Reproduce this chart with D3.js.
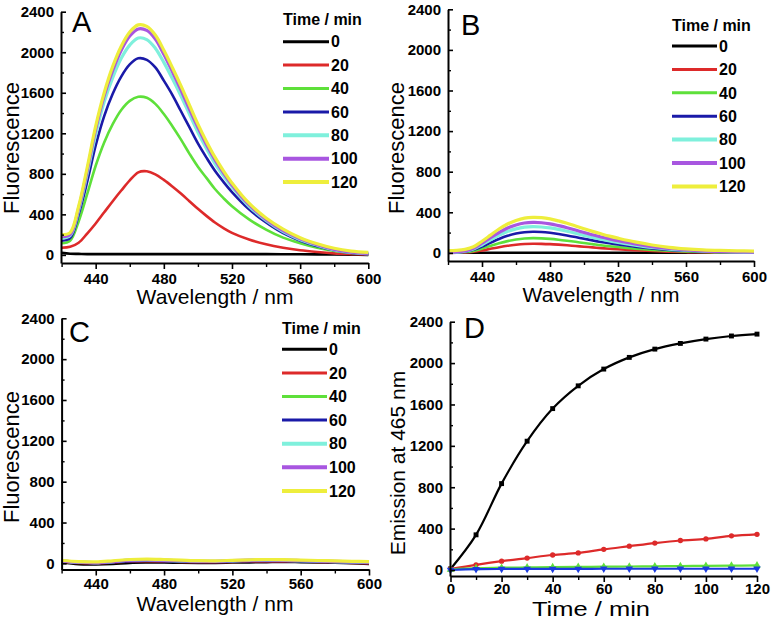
<!DOCTYPE html>
<html><head><meta charset="utf-8">
<script src="https://cdn.jsdelivr.net/npm/d3@7"></script>
<style>
html,body{margin:0;padding:0;background:#fff;}
svg{display:block;}
text{font-family:"Liberation Sans",Arial,sans-serif;}
</style></head>
<body>
<svg id="chart" width="773" height="620"></svg>
<script>
// ---------------- DATA ----------------
const timeLabels = ["0","20","40","60","80","100","120"];
const seriesColors = ["#000000","#dd2a2a","#5ee03a","#1a1aa8","#7ff0dc","#a856e0","#eeee3c"];
const wlAB = [420,425,430,435,440,445,450,455,460,465,470,475,480,485,490,495,500,505,510,515,520,530,540,550,560,570,580,590,600];
const wlC = [420,430,440,450,460,470,480,490,500,510,520,530,540,550,560,570,580,590,600];
const xTicksWl = [440,480,520,560,600];
const yTicks = [0,400,800,1200,1600,2000,2400];

// Panel A spectra
const A_t0   = [20,12,10,8,8,8,8,8,8,8,8,8,8,8,8,8,8,8,8,8,8,8,8,7,6,5,4,3,0];
const A_t20  = [70,80,120,210,310,420,530,635,735,815,825,795,740,675,605,530,455,385,320,265,218,152,104,70,45,28,15,8,3];
const A_t40  = [115,140,330,600,880,1110,1290,1430,1520,1560,1550,1490,1390,1270,1140,1000,870,760,650,560,480,350,250,170,115,70,38,18,8];
const A_t60  = [140,165,400,720,1080,1370,1590,1760,1880,1940,1925,1850,1720,1580,1420,1260,1100,960,830,720,620,450,320,215,140,85,45,20,8];
const A_t80  = [165,190,440,800,1190,1510,1750,1940,2070,2140,2125,2040,1900,1740,1570,1390,1210,1050,900,780,670,480,340,230,150,95,50,25,12];
const A_t100 = [180,200,460,830,1240,1570,1820,2020,2160,2230,2215,2130,1980,1810,1630,1440,1260,1090,940,810,690,495,350,240,160,100,55,28,15];
const A_t120 = [200,220,480,860,1270,1600,1860,2060,2200,2270,2255,2170,2020,1850,1670,1480,1290,1120,965,830,710,510,365,255,170,110,65,38,25];

// Panel B spectra
const B_t0   = [3,3,2,2,2,2,2,2,2,2,2,2,2,2,2,2,2,2,2,2,2,2,2,2,2,2,2,2,2];
const B_t20  = [0,1,4,11,24,40,56,70,80,87,90,89,86,81,75,68,61,54,47,41,36,26,18,12,8,6,4,3,2];
const B_t40  = [2,3,8,20,42,68,94,116,132,142,145,143,138,130,120,109,97,86,75,66,58,42,30,21,14,10,6,4,3];
const B_t60  = [3,5,12,30,62,100,137,168,190,204,208,206,198,186,172,156,139,123,108,95,83,61,43,30,21,14,9,6,5];
const B_t80  = [6,8,16,38,80,128,172,210,237,253,258,255,246,231,213,193,172,153,135,118,103,76,53,37,26,17,12,9,7];
const B_t100 = [8,10,20,45,95,150,200,245,275,294,300,297,286,268,248,225,200,178,157,138,120,88,62,43,30,20,14,10,8];
const B_t120 = [22,25,35,60,115,175,235,285,320,343,350,347,335,315,292,265,238,212,188,165,145,108,78,55,40,30,24,20,18];

// Panel C spectra
const C_t0   = [12,-8,-10,-5,5,8,8,6,5,5,8,10,12,14,12,10,6,2,-5];
const C_t20  = [15,5,0,8,20,22,20,15,12,12,15,18,20,20,18,14,10,5,0];
const C_t40  = [20,10,5,15,28,30,27,22,18,18,22,26,28,27,24,20,15,10,8];
const C_t60  = [18,8,2,10,22,25,22,18,14,14,18,22,24,24,20,16,12,8,5];
const C_t80  = [22,12,8,18,32,34,30,25,20,20,25,30,32,30,27,22,18,14,12];
const C_t100 = [22,12,8,18,32,35,31,26,21,21,26,31,33,31,28,23,19,15,13];
const C_t120 = [28,18,14,25,38,42,38,32,26,25,30,35,38,36,32,28,24,20,18];

// Panel D kinetics
const timesD = [0,10,20,30,40,50,60,70,80,90,100,110,120];
const xTicksD = [0,20,40,60,80,100,120];
const D_black = [10,340,835,1245,1560,1780,1942,2055,2135,2190,2232,2262,2280];
const D_red   = [10,50,85,115,145,165,200,230,260,285,300,330,345];
const D_green = [5,18,22,25,28,30,32,34,36,38,40,42,45];
const D_blue  = [0,8,10,10,10,10,12,12,12,12,12,12,12];

// ---------------- DRAW ----------------
const svg = d3.select("#chart");
const FONT = '"Liberation Sans",Arial,sans-serif';

function styleAxis(g){
  g.selectAll("path.domain").attr("stroke","#000").attr("stroke-width",2);
  g.selectAll(".tick line").attr("stroke","#000").attr("stroke-width",1.6);
  g.selectAll(".tick text").attr("font-family",FONT).attr("font-weight","bold").attr("font-size",15).attr("fill","#000");
}

function drawFrame(p){
  const gx = svg.append("g").attr("transform",`translate(0,${p.xAxisY})`)
    .call(d3.axisBottom(p.x).tickValues(p.xTicks).tickSizeInner(6).tickSizeOuter(0).tickPadding(p.xPad).tickFormat(d3.format("d")));
  styleAxis(gx);
  svg.append("g").attr("transform",`translate(0,${p.xAxisY})`)
    .call(d3.axisBottom(p.x).tickValues(p.xMinor).tickSize(4).tickFormat(""))
    .call(g=>{g.select("path.domain").remove(); g.selectAll(".tick line").attr("stroke","#000").attr("stroke-width",1.4);});
  const gy = svg.append("g").attr("transform",`translate(${p.yAxisX},0)`)
    .call(d3.axisLeft(p.y).tickValues(yTicks).tickSizeInner(-5).tickSizeOuter(0).tickPadding(7).tickFormat(d3.format("d")));
  styleAxis(gy);
  svg.append("g").attr("transform",`translate(${p.yAxisX},0)`)
    .call(d3.axisLeft(p.y).tickValues([200,600,1000,1400,1800,2200]).tickSize(-3).tickFormat(""))
    .call(g=>{g.select("path.domain").remove(); g.selectAll(".tick line").attr("stroke","#000").attr("stroke-width",1.4);});
  const xt = svg.append("text").attr("x",p.xTitle[0]).attr("y",p.xTitle[1]).attr("text-anchor","middle")
    .attr("font-size",p.xTitleSize).attr("fill","#000").text(p.xTitleText);
  if (p.xTitleLen) xt.attr("textLength",p.xTitleLen).attr("lengthAdjust","spacingAndGlyphs");
  svg.append("text").attr("transform",`translate(${p.yTitle[0]},${p.yTitle[1]}) rotate(-90)`)
    .attr("text-anchor","middle").attr("dy","0.36em").attr("font-size",p.yTitleSize).attr("fill","#000").text(p.yTitleText);
  svg.append("text").attr("x",p.letterPos[0]).attr("y",p.letterPos[1])
    .attr("font-family",'"Liberation Serif","Times New Roman",serif').attr("font-size",29).attr("fill","#000").text(p.letter);
}

function drawSpectra(p, wl, series){
  const line = d3.line().x((d,i)=>p.x(wl[i])).y(d=>p.y(d)).curve(d3.curveCatmullRom.alpha(0.5));
  series.forEach((s,k)=>{
    svg.append("path").datum(s).attr("d",line).attr("fill","none")
      .attr("stroke",seriesColors[k]).attr("stroke-width",k>=4?3.2:2.6).attr("stroke-linejoin","round");
  });
  const L = p.legend;
  svg.append("text").attr("x",L.x0).attr("y",L.titleY).attr("dy","0.36em").attr("font-weight","bold")
    .attr("font-size",16).attr("fill","#000").text("Time / min");
  timeLabels.forEach((t,k)=>{
    const yy = L.y0 + k*L.dy;
    svg.append("line").attr("x1",L.x0).attr("x2",L.x0+L.len).attr("y1",yy).attr("y2",yy)
      .attr("stroke",seriesColors[k]).attr("stroke-width",k>=4?4:3);
    svg.append("text").attr("x",L.x0+L.len+2).attr("y",yy).attr("dy","0.36em").attr("font-weight","bold")
      .attr("font-size",16).attr("fill","#000").text(t);
  });
}

const pA = {
  x: d3.scaleLinear().domain([420,600]).range([61.6,368.3]),
  y: d3.scaleLinear().domain([-80,2400]).range([263,11.7]),
  xAxisY:263, yAxisX:61, xTicks:xTicksWl, xMinor:[420,460,500,540,580], xPad:4,
  xTitle:[215,304], xTitleSize:21, xTitleText:"Wavelength / nm",
  yTitle:[11,148], yTitleSize:22, yTitleText:"Fluorescence",
  letter:"A", letterPos:[72,32],
  legend:{x0:283,titleY:19,y0:41.7,dy:23.4,len:46}
};
const pB = {
  x: d3.scaleLinear().domain([420,600]).range([448,754]),
  y: d3.scaleLinear().domain([-80,2400]).range([261,9.3]),
  xAxisY:261, yAxisX:448, xTicks:xTicksWl, xMinor:[420,460,500,540,580], xPad:4,
  xTitle:[601,302], xTitleSize:21, xTitleText:"Wavelength / nm",
  yTitle:[396,148], yTitleSize:22, yTitleText:"Fluorescence",
  letter:"B", letterPos:[461,35],
  legend:{x0:672,titleY:25,y0:46,dy:23.4,len:45}
};
const pC = {
  x: d3.scaleLinear().domain([420,600]).range([61.6,369]),
  y: d3.scaleLinear().domain([-60,2400]).range([569.5,318.3]),
  xAxisY:569.5, yAxisX:61.6, xTicks:xTicksWl, xMinor:[420,460,500,540,580], xPad:3,
  xTitle:[215,611], xTitleSize:21, xTitleText:"Wavelength / nm",
  yTitle:[11,457], yTitleSize:22, yTitleText:"Fluorescence",
  letter:"C", letterPos:[69,342],
  legend:{x0:282,titleY:328,y0:349.3,dy:23.6,len:45}
};
const pD = {
  x: d3.scaleLinear().domain([0,120]).range([450.5,757]),
  y: d3.scaleLinear().domain([-58,2400]).range([576,321.7]),
  xAxisY:576, yAxisX:450, xTicks:xTicksD, xMinor:[10,30,50,70,90,110], xPad:1,
  xTitle:[591,616], xTitleSize:20, xTitleText:"Time / min", xTitleLen:118,
  yTitle:[397,463], yTitleSize:21, yTitleText:"Emission at 465 nm",
  letter:"D", letterPos:[464,338]
};

drawSpectra(pA, wlAB, [A_t0,A_t20,A_t40,A_t60,A_t80,A_t100,A_t120]);
drawFrame(pA);
drawSpectra(pB, wlAB, [B_t0,B_t20,B_t40,B_t60,B_t80,B_t100,B_t120]);
drawFrame(pB);
drawSpectra(pC, wlC, [C_t0,C_t20,C_t40,C_t60,C_t80,C_t100,C_t120]);
drawFrame(pC);

const kin = [
  {v:D_black, c:"#000000", m:"square"},
  {v:D_red,   c:"#dd2a2a", m:"circle"},
  {v:D_green, c:"#5ee03a", m:"triangle"},
  {v:D_blue,  c:"#1a3ae0", m:"triangleDown"}
];
const lineD = d3.line().x((d,i)=>pD.x(timesD[i])).y(d=>pD.y(d)).curve(d3.curveCatmullRom.alpha(0.5));
const symMap = {square:d3.symbolSquare, circle:d3.symbolCircle, triangle:d3.symbolTriangle, triangleDown:d3.symbolTriangle};
kin.forEach(s=>{
  svg.append("path").datum(s.v).attr("d",lineD).attr("fill","none").attr("stroke",s.c).attr("stroke-width",2.2);
  const sym = d3.symbol().type(symMap[s.m]).size(s.m==="circle"?22:24);
  svg.append("g").selectAll("path").data(s.v).join("path")
    .attr("d",sym)
    .attr("transform",(d,i)=>`translate(${pD.x(timesD[i])},${pD.y(d)})${s.m==="triangleDown"?" rotate(180)":""}`)
    .attr("fill",s.c);
});
drawFrame(pD);
</script>
</body></html>
